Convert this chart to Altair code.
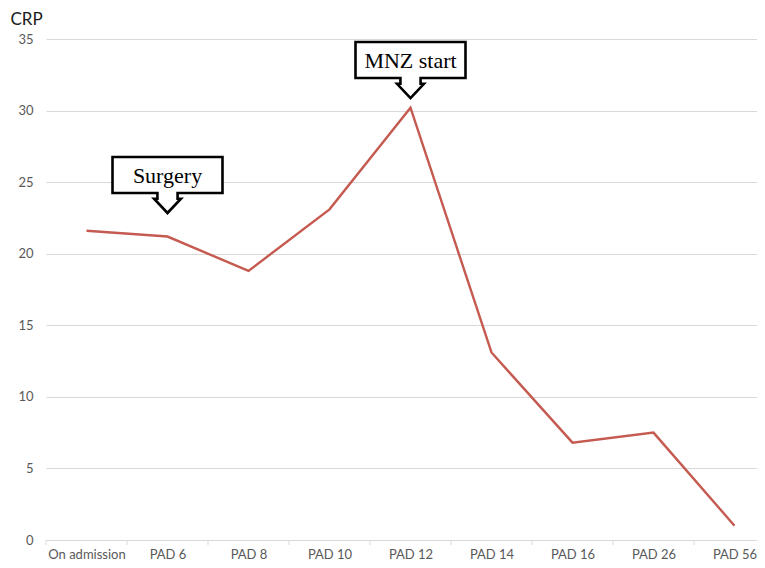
import json
import altair as alt
import pandas as pd

# ---- data ----
categories = ["On admission", "PAD 6", "PAD 8", "PAD 10", "PAD 12",
              "PAD 14", "PAD 16", "PAD 26", "PAD 56"]
crp = [21.6, 21.2, 18.8, 23.1, 30.2, 13.1, 6.8, 7.5, 1.0]

ann_text = ["Surgery", "MNZ start"]
ann_cat = ["PAD 6", "PAD 12"]
ann_y = [24.8, 32.83]          # callout centre, in CRP units

y_ticks = [0, 5, 10, 15, 20, 25, 30, 35]

# ---- layout ----
W, H = 711, 501
BAND = 81.0
x_dom = [-0.5, -0.5 + W / BAND]

label_arr = json.dumps(categories)

line_df = pd.DataFrame({"x": list(range(len(categories))), "y": crp})
tick_df = pd.DataFrame({"x": [i - 0.5 for i in range(len(categories))]})
ann_df = pd.DataFrame({
    "x": [categories.index(c) for c in ann_cat],
    "y": ann_y,
    "t": ann_text,
})

X = alt.X(
    "x:Q",
    scale=alt.Scale(domain=x_dom, nice=False, zero=False),
    axis=alt.Axis(
        values=list(range(len(categories))),
        labelExpr=f"{label_arr}[datum.value]",
        title=None, grid=False, ticks=False, tickSize=0,
        domain=True, domainColor="#d9d9d9", domainWidth=1,
        labelFont="Lato", labelFontSize=13, labelColor="#595959",
        labelBaseline="alphabetic", labelPadding=18,
        labelFlush=False, labelOverlap=False, labelBound=False,
    ),
)
Y = alt.Y(
    "y:Q",
    scale=alt.Scale(domain=[0, 35], nice=False, zero=True),
    axis=alt.Axis(
        values=y_ticks, title="CRP", titleAngle=0, titleAlign="left",
        titleBaseline="alphabetic", titleX=-36, titleY=-15,
        titleFont="Lato", titleFontSize=17, titleFontWeight="normal",
        titleColor="#1a1a1a",
        grid=True, gridColor="#d9d9d9", gridWidth=1,
        domain=False, ticks=False, tickSize=0,
        labelFont="Lato", labelFontSize=13, labelColor="#595959",
        labelPadding=13,
    ),
)

line = alt.Chart(line_df).mark_line(color="#C55A50", strokeWidth=2.4).encode(x=X, y=Y)

ticks = alt.Chart(tick_df).mark_rule(color="#d9d9d9", strokeWidth=1).encode(
    x=X, y=alt.value(H), y2=alt.value(H + 5)
)

callout_path = (
    "M -0.982 -0.5 L 0.982 -0.5 L 0.982 0.143 L 0.18 0.143 L 0.18 0.245 "
    "L 0.24 0.245 L 0 0.5 L -0.24 0.245 L -0.18 0.245 L -0.18 0.143 "
    "L -0.982 0.143 Z"
)
callout = alt.Chart(ann_df).mark_point(
    shape=callout_path, size=112 * 112, filled=True, fill="white",
    stroke="black", strokeWidth=2.6, opacity=1, fillOpacity=1,
    strokeOpacity=1, strokeJoin="miter",
).encode(x=X, y=Y)

texts = alt.Chart(ann_df).mark_text(
    font="Liberation Serif", fontSize=22, color="black",
    baseline="alphabetic", align="center", dy=-2,
).encode(x=X, y=Y, text="t:N")

chart = alt.layer(ticks, line, callout, texts).properties(
    width=W, height=H,
    padding={"left": 38, "top": 31, "right": 0, "bottom": 20},
    autosize=alt.AutoSizeParams(type="none"),
    background="white",
).configure_view(stroke=None)

chart.save("out.html", embed_options={"renderer": "svg", "actions": False})
